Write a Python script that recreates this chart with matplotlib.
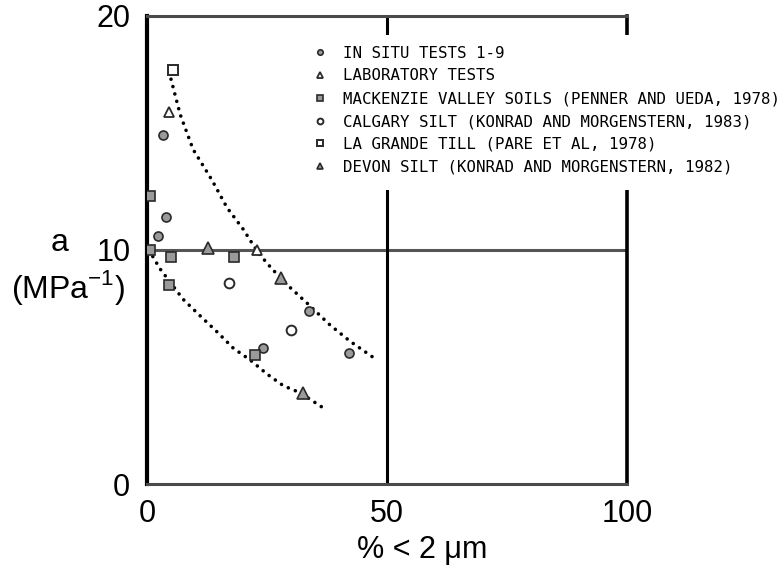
import matplotlib
matplotlib.use("Agg")
import matplotlib.pyplot as plt
from matplotlib.patches import Rectangle

plt.rcParams["font.family"] = ["Liberation Sans", "DejaVu Sans"]
plt.rcParams["mathtext.fontset"] = "custom"
plt.rcParams["mathtext.rm"] = "Liberation Sans"

# clay fraction (% < 2 um) vs segregation-potential coefficient a (1/MPa)
insitu_x = [3.4, 4.0, 2.3, 42.1, 33.8, 24.2]
insitu_y = [14.9, 11.4, 10.6, 5.6, 7.4, 5.8]

lab_x = [4.6, 22.9]
lab_y = [15.9, 10.0]

mackenzie_x = [0.6, 0.6, 5.0, 18.1, 4.6, 22.5]
mackenzie_y = [12.3, 10.0, 9.7, 9.7, 8.5, 5.5]

calgary_x = [17.1, 30.0]
calgary_y = [8.6, 6.6]

lagrande_x = [5.4]
lagrande_y = [17.7]

devon_x = [12.7, 27.9, 32.5]
devon_y = [10.1, 8.8, 3.9]

# hand-fitted envelope curves
upper_x = [5.0, 6.9, 9.6, 13.5, 16.7, 20.0, 23.1, 26.0, 29.8, 33.5, 38.1, 42.3, 47.9]
upper_y = [17.3, 15.8, 14.3, 13.0, 11.8, 10.9, 9.9, 9.2, 8.4, 7.7, 6.8, 6.1, 5.3]
lower_x = [0.4, 2.7, 7.5, 11.0, 14.6, 18.0, 21.5, 25.0, 28.4, 31.9, 37.1]
lower_y = [10.0, 9.2, 7.9, 7.2, 6.5, 5.8, 5.3, 4.7, 4.2, 3.9, 3.2]

legend_labels = [
    "IN SITU TESTS 1-9",
    "LABORATORY TESTS",
    "MACKENZIE VALLEY SOILS (PENNER AND UEDA, 1978)",
    "CALGARY SILT (KONRAD AND MORGENSTERN, 1983)",
    "LA GRANDE TILL (PARE ET AL, 1978)",
    "DEVON SILT (KONRAD AND MORGENSTERN, 1982)",
]

W, H = 782, 587
fig = plt.figure(figsize=(W / 100, H / 100), dpi=100)
ax = fig.add_axes([147 / W, 1 - 484 / H, 480 / W, 468 / H])
ax.set_xlim(0, 100)
ax.set_ylim(0, 20)

# frame and the two reference lines
for side, col, lw in [("left", "black", 3.0), ("right", "black", 2.6),
                      ("top", "#4a4a4a", 2.2), ("bottom", "#4a4a4a", 2.2)]:
    ax.spines[side].set_color(col)
    ax.spines[side].set_linewidth(lw)
ax.axhline(10, color="#555555", lw=2.2, zorder=1)
ax.axvline(50, color="black", lw=2.2, zorder=1)

dotted = dict(color="black", lw=2.6, linestyle=(0, (0.01, 2.1)),
              dash_capstyle="round", zorder=2)
ax.plot(upper_x, upper_y, **dotted)
ax.plot(lower_x, lower_y, **dotted)

gray = "#9a9a9a"
edge = "#2a2a2a"
h1, = ax.plot(insitu_x, insitu_y, "o", ms=6.5, mfc=gray, mec=edge, mew=1.2, ls="none", zorder=4)
h2, = ax.plot(lab_x, lab_y, "^", ms=7, mfc="white", mec=edge, mew=1.3, ls="none", zorder=4)
h3, = ax.plot(mackenzie_x, mackenzie_y, "s", ms=7, mfc=gray, mec=edge, mew=1.2, ls="none", zorder=4)
h4, = ax.plot(calgary_x, calgary_y, "o", ms=7, mfc="white", mec=edge, mew=1.4, ls="none", zorder=4)
h5, = ax.plot(lagrande_x, lagrande_y, "s", ms=6.5, mfc="white", mec=edge, mew=1.4, ls="none", zorder=4)
h6, = ax.plot(devon_x, devon_y, "^", ms=8, mfc=gray, mec=edge, mew=1.2, ls="none", zorder=4)

ax.set_xticks([0, 50, 100])
ax.set_yticks([0, 10, 20])
ax.tick_params(length=0, labelsize=22)
ax.tick_params(axis="y", pad=12)
ax.tick_params(axis="x", pad=11)

fig.text(60 / W, 1 - 243 / H, "a", fontsize=23, ha="center", va="center")
fig.text(68 / W, 1 - 288 / H, "(MPa$^{-1}$)", fontsize=23, ha="center", va="center")
fig.text(422 / W, 1 - 550 / H, "% < 2 \u03bcm", fontsize=22, ha="center", va="center")

# blank area behind the key, cutting the frame and the 50 % line
fig.add_artist(Rectangle((308 / W, 1 - 190 / H), (W - 308) / W, 155 / H,
                         transform=fig.transFigure, facecolor="white",
                         edgecolor="none", zorder=3))
fig.legend([h1, h2, h3, h4, h5, h6], legend_labels,
           loc="upper left", bbox_to_anchor=(313.7 / W, 1 - 45.5 / H),
           bbox_transform=fig.transFigure, frameon=False, borderpad=0,
           borderaxespad=0, handlelength=0.8, handletextpad=1.06,
           labelspacing=0.5, markerscale=0.6,
           prop={"family": "DejaVu Sans Mono", "size": 11.3})

fig.savefig("out.png", dpi=100)
